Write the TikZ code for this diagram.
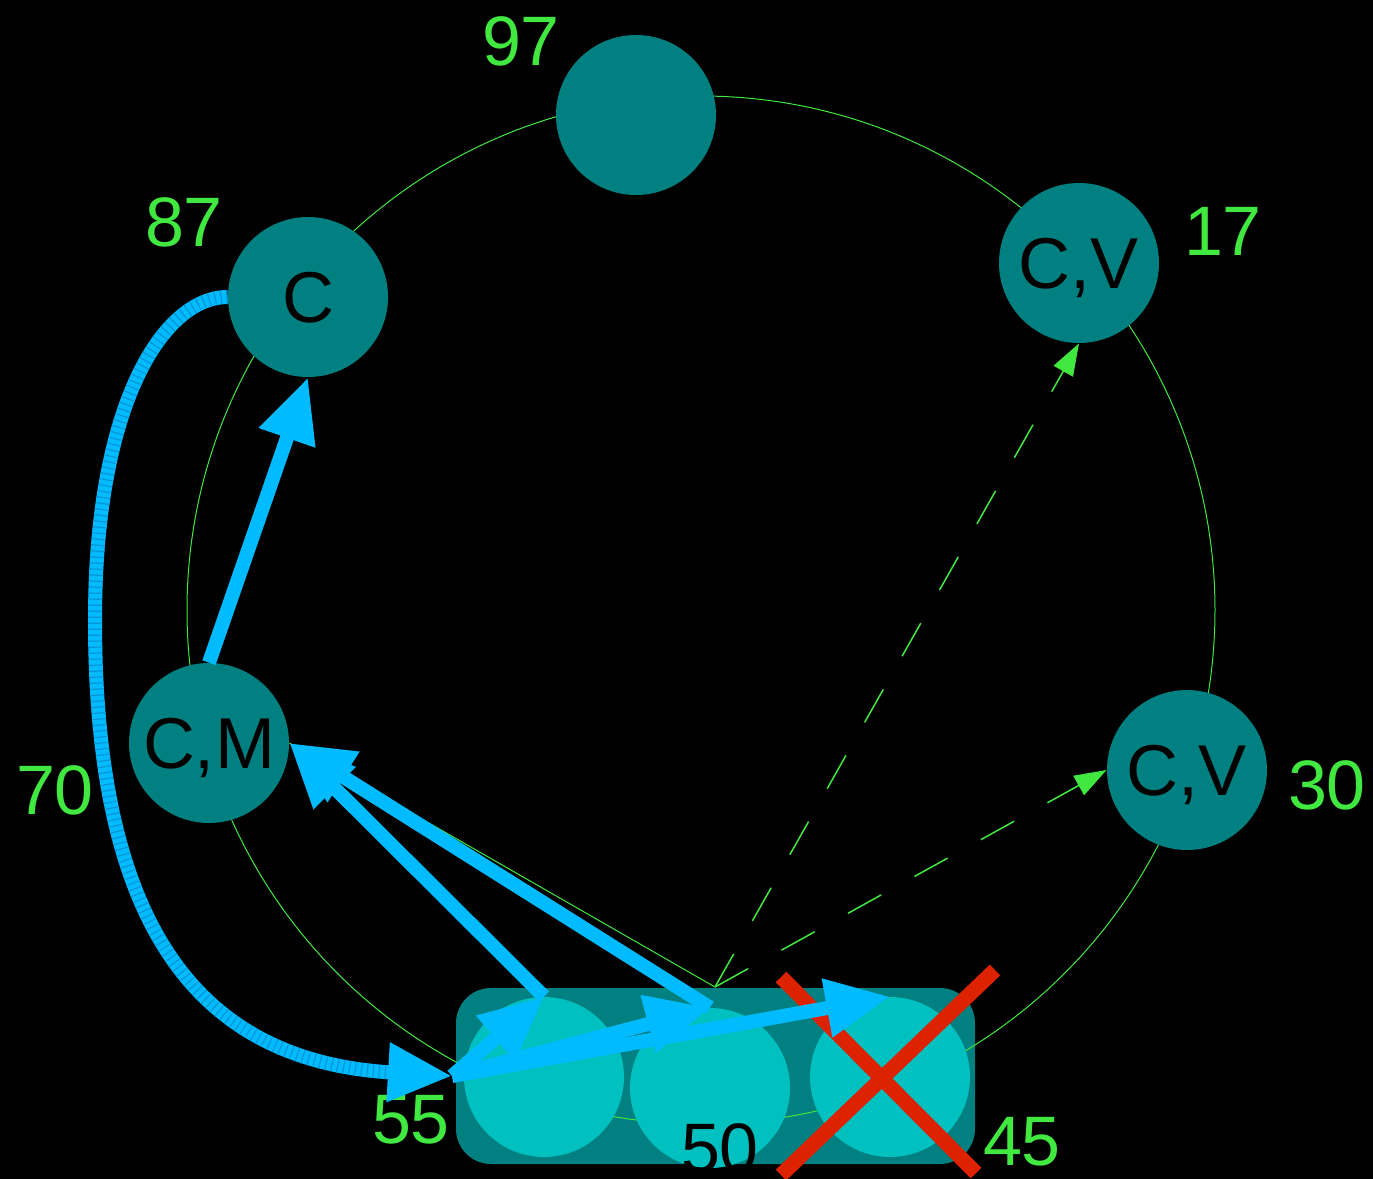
\documentclass[tikz,border=0pt]{standalone}
\usepackage{fontspec}
\setmainfont{Liberation Sans}
\usetikzlibrary{arrows.meta}
\definecolor{tealn}{HTML}{008080}
\definecolor{cyann}{HTML}{00C0C0}
\definecolor{bluea}{HTML}{00BBFF}
\definecolor{blues}{HTML}{0096D6}
\definecolor{greenl}{HTML}{40E840}
\definecolor{redx}{HTML}{DD2200}
\begin{document}
\begin{tikzpicture}[x=0.5pt,y=-0.5pt,
 ringnode/.style={circle,fill=tealn,minimum size=80pt,inner sep=0pt,text height=25.8pt,text depth=0pt,font=\fontsize{36pt}{40pt}\selectfont,text=black},
 subnode/.style={circle,fill=cyann,minimum size=80pt,inner sep=0pt},
 lbl/.style={text=greenl,font=\fontsize{35pt}{40pt}\selectfont,inner sep=0pt,text height=25.2pt,text depth=0pt},
 bluearrow/.style={draw=bluea,line width=7pt,-{Triangle[length=32pt,width=28pt]}},
 greendash/.style={draw=greenl,line width=0.75pt,dash pattern=on 19pt off 19pt,-{Triangle[length=16pt,width=11pt]}},
 ringline/.style={draw=greenl,line width=0.5pt},
 redline/.style={draw=redx,line width=7.5pt}]
\fill[black] (0,0) rectangle (1373,1179);
\useasboundingbox (0,0) rectangle (1373,1179);
% group box
\fill[tealn,rounded corners=17.5pt] (456,988) rectangle (975,1164);
% ring
\draw[ringline] (701,610) circle[radius=257pt];
% ring nodes
\node[ringnode] (n97) at (636,115) {};
\node[ringnode] (n87) at (308,297) {C};
\node[ringnode] (n17) at (1079,263) {C,V};
\node[ringnode] (n70) at (209,743) {C,M};
\node[ringnode] (n30) at (1187,770) {C,V};
% sub nodes
\node[subnode] (c55) at (544,1077) {};
\node[subnode] (c50) at (710,1088) {};
\node[subnode] (c45) at (890,1077) {};
% labels
\node[lbl] (l97) at (521,40) {97};
\node[lbl] (l87) at (184,221) {87};
\node[lbl] (l17) at (1223,230) {17};
\node[lbl] (l30) at (1327,784) {30};
\node[lbl] (l70) at (55,789) {70};
\node[lbl] (l55) at (411,1118) {55};
\node[lbl] (l45) at (1022,1140) {45};
\node[lbl,text=black] (l50) at (720,1147) {50};
% green connectors
\coordinate (gtop) at (715,987);
\draw[greenl,line width=0.5pt] (gtop) -- (n70.east);
\draw[greendash] (gtop) -- (n17.south);
\draw[greendash] (gtop) -- (n30.west);
% red cross
\draw[redline] (781,977) -- (976,1173);
\draw[redline] (995,970) -- (781,1175);
% blue arrows
\coordinate (p55) at (452,1076);
\draw[bluearrow] (n70.north) -- (n87.south);
\draw[bluearrow] (c55.north) -- (n70.east);
\draw[bluearrow] (c50.north) -- (n70.east);
\draw[bluearrow] (n87.west) .. controls (165,297) and (95,400) .. (95,620) .. controls (95,900) and (180,1060) .. (p55);
\draw[blues,line width=7pt,dash pattern=on 0.6pt off 2.4pt,shorten >=31pt] (n87.west) .. controls (165,297) and (95,400) .. (95,620) .. controls (95,900) and (180,1060) .. (p55);
\draw[bluearrow] (p55) -- (c55.north);
\draw[bluearrow] (p55) -- (c50.north);
\draw[bluearrow] (p55) -- (c45.north);
\end{tikzpicture}
\end{document}
